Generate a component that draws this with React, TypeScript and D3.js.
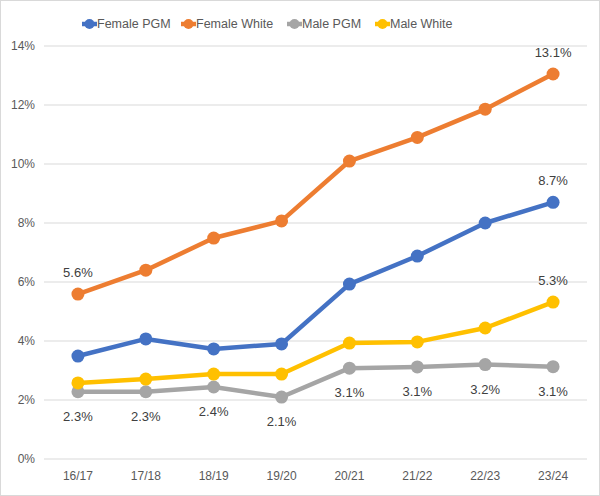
import React from 'react';
import * as d3 from 'd3';

const years = ['16/17', '17/18', '18/19', '19/20', '20/21', '21/22', '22/23', '23/24'];
const femalePgm = [3.49, 4.07, 3.73, 3.9, 5.93, 6.88, 8.0, 8.7];
const femaleWhite = [5.59, 6.4, 7.49, 8.07, 10.1, 10.9, 11.86, 13.05];
const malePgm = [2.28, 2.28, 2.44, 2.1, 3.08, 3.12, 3.2, 3.13];
const maleWhite = [2.58, 2.71, 2.88, 2.88, 3.93, 3.97, 4.44, 5.32];
const yTicks = [0, 2, 4, 6, 8, 10, 12, 14];

// which points get a label, and where
const series = [
  { name: 'Female PGM', color: '#4472C4', values: femalePgm, labels: [7], pos: 'above' },
  { name: 'Female White', color: '#ED7D31', values: femaleWhite, labels: [0, 7], pos: 'above' },
  { name: 'Male PGM', color: '#A5A5A5', values: malePgm, labels: [0, 1, 2, 3, 4, 5, 6, 7], pos: 'below' },
  { name: 'Male White', color: '#FFC000', values: maleWhite, labels: [7], pos: 'above' },
];

const W = 600;
const H = 496;
const font = '"Liberation Sans", Arial, sans-serif';

const App: React.FC = () => {
  const x = d3.scaleBand<string>().domain(years).range([44, 587]);
  const y = d3.scaleLinear().domain([0, 14]).range([459, 46]);
  const cx = (i: number) => (x(years[i]) as number) + x.bandwidth() / 2;

  const line = d3.line<number>()
    .x((_, i) => cx(i))
    .y(d => y(d));

  // legend items positions
  const legendX = [82, 181, 287, 375];

  return (
    <svg width={W} height={H} style={{ position: 'absolute', left: 0, top: 0, fontFamily: font }}>
      <rect x={0.5} y={0.5} width={W - 1} height={H - 1} fill="#fff" stroke="#D9D9D9" />

      {/* gridlines + y labels */}
      {yTicks.map(t => (
        <g key={t}>
          <line x1={44} x2={587} y1={y(t)} y2={y(t)} stroke="#D9D9D9" strokeWidth={1} />
          <text x={35} y={y(t)} dy="0.35em" textAnchor="end" fontSize={12} fill="#595959">{t}%</text>
        </g>
      ))}

      {/* x labels */}
      {years.map((yr, i) => (
        <text key={yr} x={cx(i)} y={480} textAnchor="middle" fontSize={12} fill="#595959">{yr}</text>
      ))}

      {/* lines */}
      {series.map(s => (
        <g key={s.name}>
          <path d={line(s.values) || ''} fill="none" stroke={s.color} strokeWidth={4.5} strokeLinejoin="round" />
          {s.values.map((v, i) => (
            <circle key={i} cx={cx(i)} cy={y(v)} r={6.5} fill={s.color} />
          ))}
        </g>
      ))}

      {/* data labels */}
      {series.map(s => s.labels.map(i => (
        <text
          key={s.name + i}
          x={cx(i)}
          y={s.pos === 'above' ? y(s.values[i]) - 17 : y(s.values[i]) + 29}
          textAnchor="middle"
          fontSize={13}
          fill="#404040"
        >
          {s.values[i].toFixed(1)}%
        </text>
      )))}

      {/* legend */}
      {series.map((s, k) => (
        <g key={s.name} transform={`translate(${legendX[k]},24)`}>
          <line x1={0} x2={15} y1={0} y2={0} stroke={s.color} strokeWidth={4.5} />
          <circle cx={7.5} cy={0} r={5} fill={s.color} />
          <text x={15} y={0} dy="0.35em" fontSize={12.5} fill="#595959">{s.name}</text>
        </g>
      ))}
    </svg>
  );
};

export default App;
